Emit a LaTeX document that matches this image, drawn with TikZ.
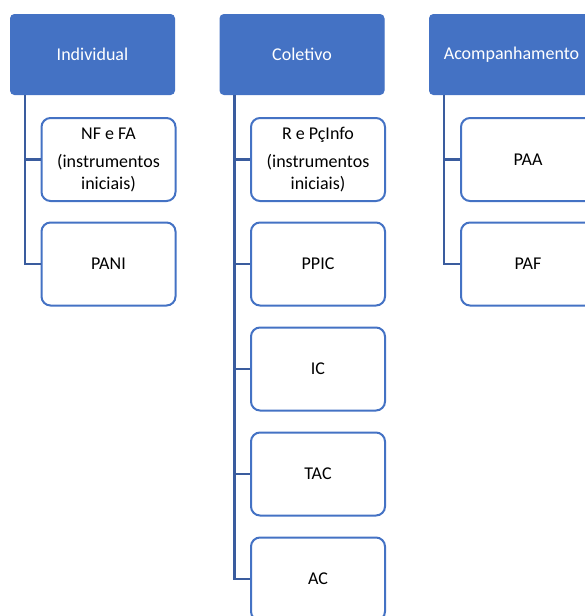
\documentclass[tikz,border=0pt]{standalone}
\usepackage{fontspec}
\setmainfont{Carlito}
\definecolor{hdblue}{HTML}{4472C4}
\definecolor{lnblue}{HTML}{3A5C9E}

\begin{document}
\begin{tikzpicture}[x=1pt,y=-1pt,
  head/.style={fill=hdblue,draw=hdblue,line width=1pt,rounded corners=4pt,minimum width=164pt,minimum height=80pt,text=white,font=\fontsize{18}{22}\selectfont},
  item/.style={fill=white,draw=hdblue,line width=2pt,rounded corners=9pt,minimum width=134pt,minimum height=83pt,align=center,font=\fontsize{18}{22}\selectfont},
  conn/.style={draw=lnblue,line width=2.5pt}]
\clip (0,0) rectangle (585,616);

\node[head] (ind) at (92.5,54.5) {Individual};
\node[head] (col) at (302,54.5) {Coletivo};
\node[head] (aco) at (511.5,54.5) {Acompanhamento};

\node[item] (nfa) at (108.5,159.5) {NF e FA\\[6pt](instrumentos\\iniciais)};
\node[item] (pani) at (108.5,264) {PANI};

\node[item] (rpc) at (318,159.5) {R e PçInfo\\[6pt](instrumentos\\iniciais)};
\node[item] (ppic) at (318,264) {PPIC};
\node[item] (ic) at (318,369) {IC};
\node[item] (tac) at (318,474) {TAC};
\node[item] (ac) at (318,579) {AC};

\node[item] (paa) at (528,159.5) {PAA};
\node[item] (paf) at (528,264) {PAF};

\draw[conn] (ind.south west) ++(15,0) |- (nfa.west); %ind-nfa
\draw[conn] (ind.south west) ++(15,0) |- (pani.west); %ind-pani
\draw[conn] (col.south west) ++(15,0) |- (rpc.west); %col-rpc
\draw[conn] (col.south west) ++(15,0) |- (ppic.west); %col-ppic
\draw[conn] (col.south west) ++(15,0) |- (ic.west); %col-ic
\draw[conn] (col.south west) ++(15,0) |- (tac.west); %col-tac
\draw[conn] (col.south west) ++(15,0) |- (ac.west); %col-ac
\draw[conn] (aco.south west) ++(15,0) |- (paa.west); %aco-paa
\draw[conn] (aco.south west) ++(15,0) |- (paf.west); %aco-paf

\end{tikzpicture}
\end{document}
